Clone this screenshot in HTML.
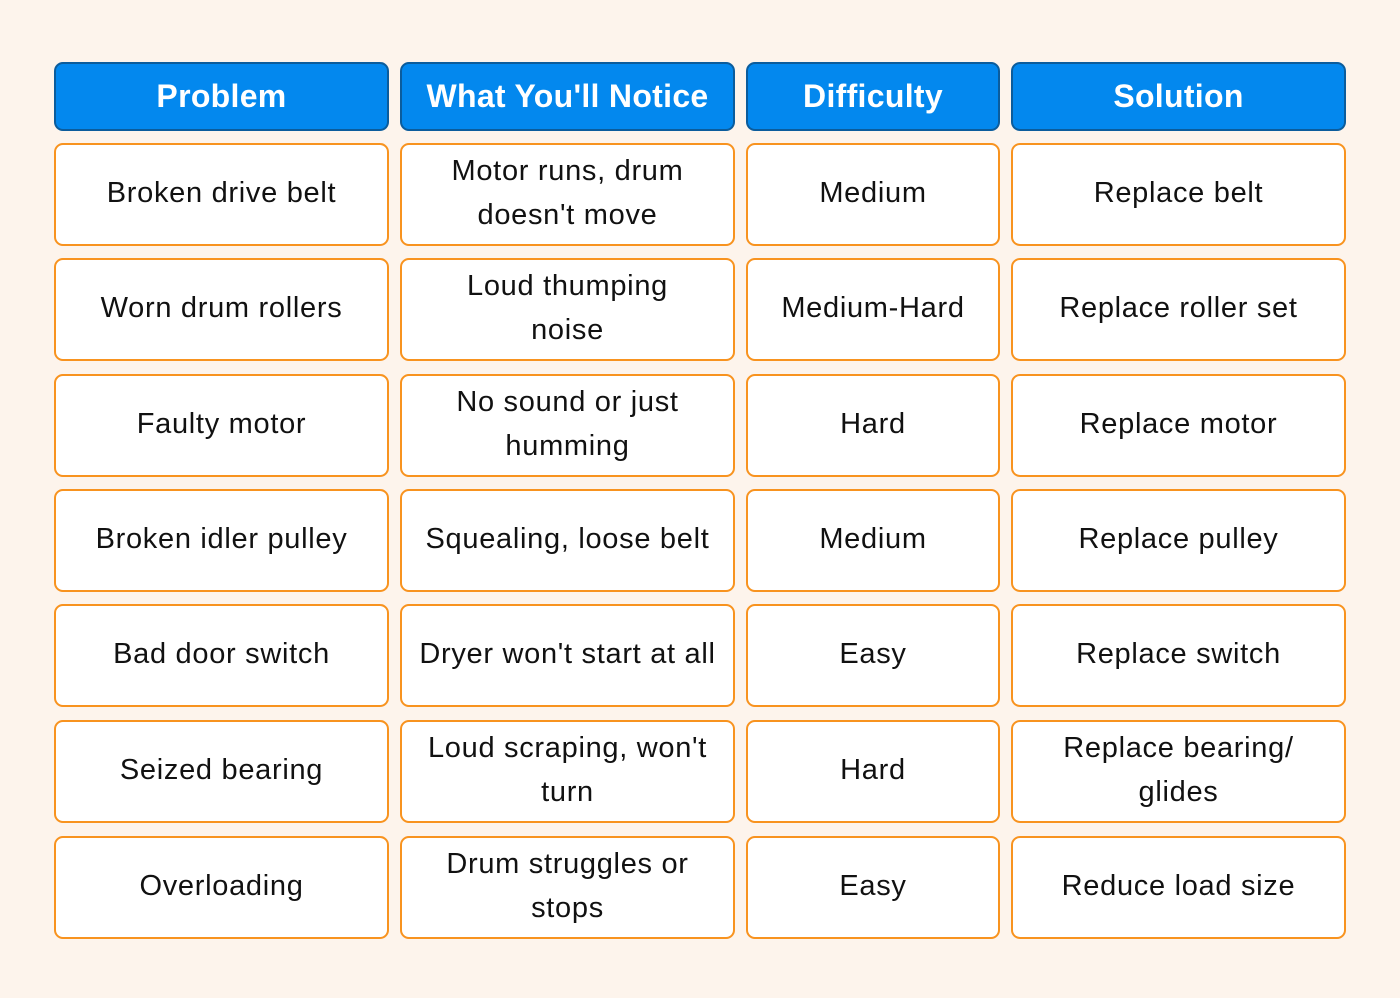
<!DOCTYPE html>
<html><head><style>
body{margin:0;width:1400px;height:998px;background:#fdf4ec;font-family:"Liberation Sans",sans-serif;position:relative;overflow:hidden}
.c{position:absolute;box-sizing:border-box;display:flex;align-items:center;justify-content:center;text-align:center;border-radius:9px}
.h{background:#0388ee;border:2px solid #0b5c9c;color:#fff;font-weight:bold;font-size:32px;top:62px;height:69px;letter-spacing:0.3px}
.d{background:#fff;border:2px solid #f8931f;color:#111;font-size:29px;letter-spacing:0.7px;line-height:44px;height:103px;padding:0 4px 3px}
</style></head><body>
<div class="c h" style="left:54px;width:335px">Problem</div>
<div class="c h" style="left:400px;width:335px">What You'll Notice</div>
<div class="c h" style="left:746px;width:254px">Difficulty</div>
<div class="c h" style="left:1011px;width:335px">Solution</div>
<script>
const rows=[["Broken drive belt","Motor runs, drum doesn't move","Medium","Replace belt"],
["Worn drum rollers","Loud thumping noise","Medium-Hard","Replace roller set"],
["Faulty motor","No sound or just humming","Hard","Replace motor"],
["Broken idler pulley","Squealing, loose belt","Medium","Replace pulley"],
["Bad door switch","Dryer won't start at all","Easy","Replace switch"],
["Seized bearing","Loud scraping, won't turn","Hard","Replace bearing/ glides"],
["Overloading","Drum struggles or stops","Easy","Reduce load size"]];
const tops=[143,258,374,489,604,720,836];
const cols=[[54,335],[400,335],[746,254],[1011,335]];
const wraps={"Motor runs, drum doesn't move":"Motor runs, drum<br>doesn't move","Loud thumping noise":"Loud thumping<br>noise","No sound or just humming":"No sound or just<br>humming","Loud scraping, won't turn":"Loud scraping, won't<br>turn","Replace bearing/ glides":"Replace bearing/<br>glides","Drum struggles or stops":"Drum struggles or<br>stops"};
let h="";
rows.forEach((r,i)=>r.forEach((t,j)=>{h+=`<div class="c d" style="left:${cols[j][0]}px;width:${cols[j][1]}px;top:${tops[i]}px">${wraps[t]||t}</div>`}));
document.write(h);
</script>
</body></html>
